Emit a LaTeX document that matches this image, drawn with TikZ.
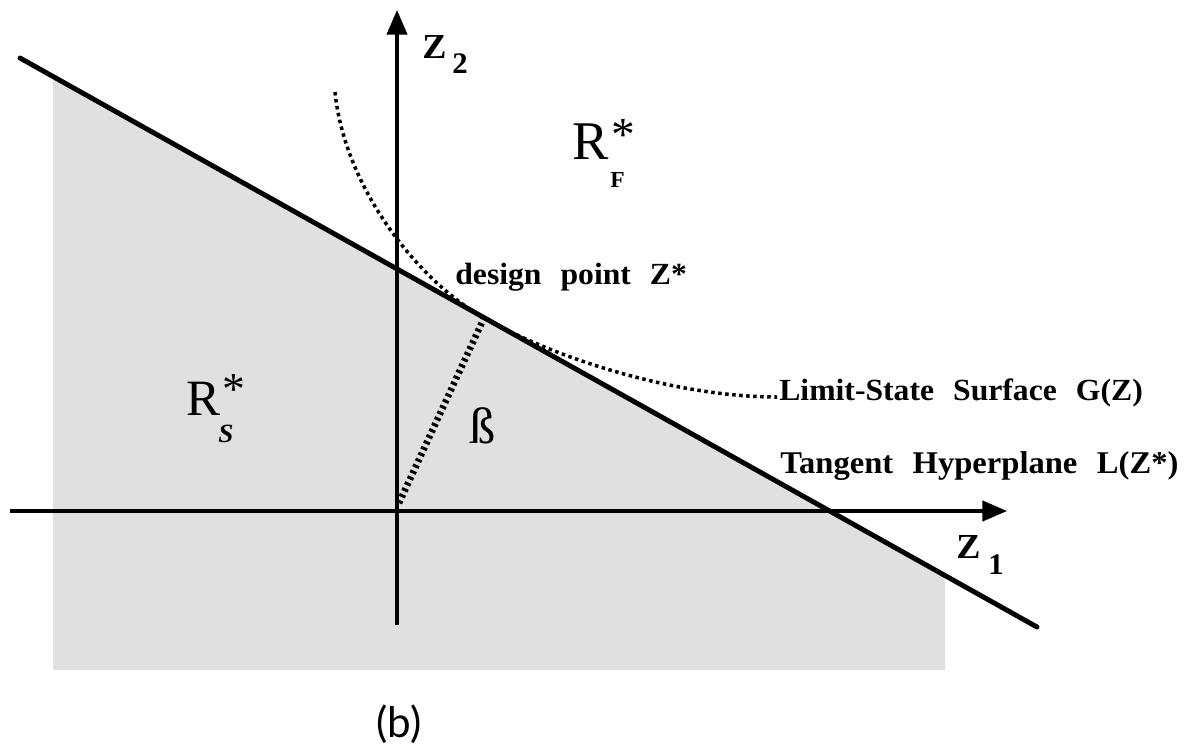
\documentclass[tikz,border=0pt]{standalone}
\usepackage{fontspec}
\setmainfont{Liberation Serif}
\newfontfamily\lab[FakeStretch=1.03,WordSpace=2.4]{Liberation Serif}
\newfontfamily\capfont{Lato}
\usetikzlibrary{arrows.meta}
\begin{document}
\begin{tikzpicture}[x=0.02cm,y=-0.02cm,
  axis/.style={line width=2pt,-{Triangle[length=14pt,width=11.5pt]}},
  tangentline/.style={line width=2.8pt,line cap=round},
  limitcurve/.style={line width=2pt,dash pattern=on 2pt off 2pt},
  betaline/.style={line width=3.8pt,dash pattern=on 1.7pt off 2pt},
  shade/.style={fill=black!12,draw=none},
  lbl/.style={inner sep=0pt,anchor=base west,font=\lab\bfseries\fontsize{17.5}{20}\selectfont},
  big/.style={inner sep=0pt,anchor=base west,font=\fontsize{29}{32}\selectfont}]
\useasboundingbox (0,0) rectangle (1185,751);
% shaded safe region
\fill[shade] (53,76.5) -- (945,575.5) -- (945,670) -- (53,670) -- cycle;
% coordinates
\coordinate (L1) at (20,58);
\coordinate (L2) at (1037,627);
\coordinate (V0) at (397,625);
\coordinate (V1) at (397,10);
\coordinate (H0) at (10,511);
\coordinate (H1) at (1007,511);
\coordinate (O) at (399,503);
\coordinate (D) at (484,318);
\coordinate (C0) at (335,92);
\coordinate (C1) at (777,397);
% axes
\draw[axis] (V0) -- (V1);
\draw[axis] (H0) -- (H1);
% tangent hyperplane
\draw[tangentline] (L1) -- (L2);
% limit-state curve
\draw[limitcurve] (C0) .. controls (345,190) and (420,282) .. (D)
  .. controls (560,361) and (680,397) .. (C1);
% beta line
\draw[betaline] (O) -- (D);
% labels
\node[lbl,font=\lab\bfseries\fontsize{20}{22}\selectfont] (z2) at (422,58) {Z};
\node[lbl,font=\lab\bfseries\fontsize{17}{20}\selectfont] (z2s) at (452,73) {2};
\node[lbl,font=\lab\bfseries\fontsize{20}{22}\selectfont] (z1) at (956,558) {Z};
\node[lbl,font=\lab\bfseries\fontsize{17}{20}\selectfont] (z1s) at (988,574) {1};
\node[lbl] (dp) at (455,284) {design point Z*};
\node[lbl] (ls) at (779,400) {Limit-State Surface G(Z)};
\node[lbl,font=\lab\bfseries\fontsize{18}{20}\selectfont] (th) at (780,473) {Tangent Hyperplane L(Z*)};
% R_F^*
\node[big,font=\fontsize{31}{34}\selectfont] (rf) at (572,159) {R};
\node[big,font=\fontsize{27}{30}\selectfont] (rfa) at (611,150) {*};
\node[lbl,font=\lab\bfseries\fontsize{13}{14}\selectfont] (rfs) at (610,187) {F};
% R_S^*
\node[big] (rs) at (186,415) {R};
\node[big,font=\fontsize{26}{30}\selectfont] (rsa) at (222,404) {*};
\node[lbl,font=\lab\bfseries\itshape\fontsize{15}{16}\selectfont] (rss) at (218,442) {S};
% beta
\node[big,font=\lab\fontsize{29}{32}\selectfont] (beta) at (469,443) {ß};
% caption
\node[inner sep=0pt,font=\capfont\fontsize{24}{28}\selectfont] (cap) at (399,724) {(b)};
\end{tikzpicture}
\end{document}
